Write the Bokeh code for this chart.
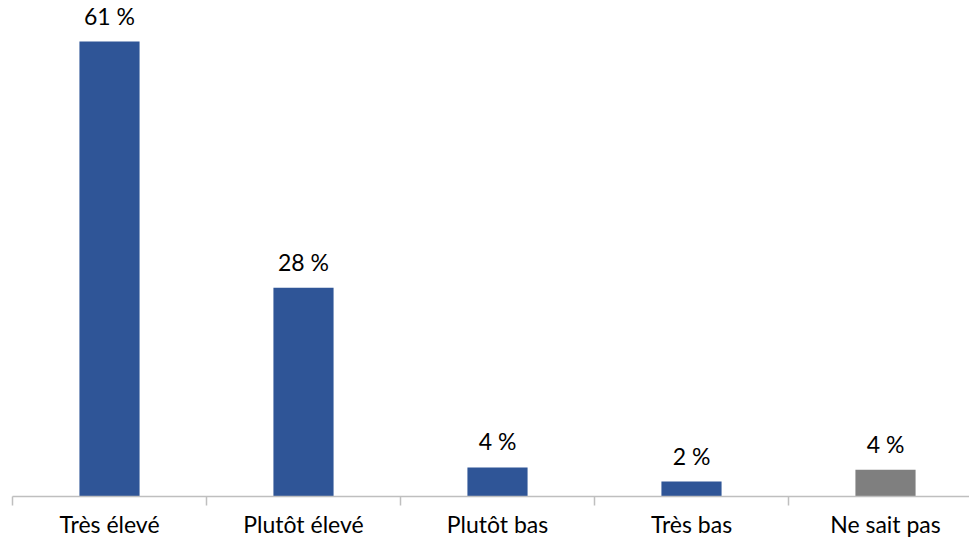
from bokeh.plotting import figure
from bokeh.models import ColumnDataSource, Range1d, FixedTicker
from bokeh.core.properties import value
from bokeh.embed import file_html
from bokeh.resources import INLINE

categories = ["Très élevé", "Plutôt élevé", "Plutôt bas", "Très bas", "Ne sait pas"]
values = [61, 28, 3.9, 2.0, 3.6]
colors = ["#2F5597", "#2F5597", "#2F5597", "#2F5597", "#7F7F7F"]
labels = [f"{round(v)} %" for v in values]

xs = [i + 0.5 for i in range(len(categories))]
src = ColumnDataSource(dict(x=xs, top=values, color=colors, label=labels))

p = figure(width=969, height=540, output_backend="svg", toolbar_location=None,
           x_range=Range1d(0, 4.933), y_range=Range1d(0, 66.5),
           min_border_left=12, min_border_right=0, min_border_top=0, min_border_bottom=0)
p.outline_line_color = None
p.grid.visible = False
p.yaxis.visible = False

p.vbar(x="x", top="top", width=0.31, bottom=0, color="color", line_color=None, source=src)
p.text(x="x", y="top", text="label", source=src, text_align="center", text_baseline="bottom",
       y_offset=-12, text_font=value("Lato"), text_font_size="23px", text_color="#000000")

ax = p.xaxis[0]
ax.ticker = FixedTicker(ticks=xs, minor_ticks=list(range(len(categories) + 1)))
ax.major_label_overrides = {x: c for x, c in zip(xs, categories)}
ax.major_tick_line_color = None
ax.major_tick_out = 0
ax.major_tick_in = 0
ax.minor_tick_out = 9
ax.minor_tick_in = 0
ax.minor_tick_line_color = "#BFBFBF"
ax.minor_tick_line_width = 1.5
ax.axis_line_color = "#BFBFBF"
ax.axis_line_width = 1.5
ax.major_label_standoff = 4
ax.major_label_text_font = "Lato"
ax.major_label_text_font_size = "23px"
ax.major_label_text_color = "#000000"

open("out.html", "w").write(file_html(p, INLINE))
